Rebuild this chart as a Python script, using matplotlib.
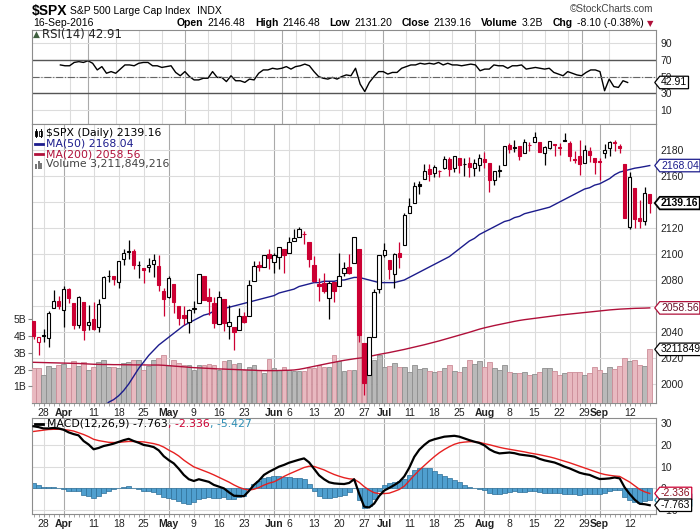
import matplotlib
matplotlib.use("Agg")
import matplotlib.pyplot as plt
from matplotlib.lines import Line2D
from matplotlib.patches import Rectangle
from matplotlib.path import Path
from matplotlib.transforms import blended_transform_factory as blend
import numpy as np
import pandas as pd

plt.rcParams["font.family"] = ["Liberation Sans", "DejaVu Sans"]

# ---- data: $SPX daily, 23-Mar-2016 .. 16-Sep-2016 ----
holidays = ["2016-03-25", "2016-05-30", "2016-07-04", "2016-09-05"]
prev_close0 = 2049.80  # close of 22-Mar, only used for colouring

open_ = [2048.55, 2032.48, 2037.89, 2035.75, 2058.27, 2063.77, 2056.62, 2073.19, 2062.50, 2045.56,
         2063.37, 2045.54, 2050.23, 2043.72, 2065.92, 2082.89, 2083.10, 2078.83, 2096.05, 2101.52,
         2102.09, 2091.49, 2089.37, 2089.84, 2092.57, 2090.93, 2071.82, 2067.17, 2077.18, 2060.30,
         2052.95, 2047.77, 2057.55, 2062.63, 2083.29, 2067.17, 2062.50, 2046.53, 2065.04, 2044.38,
         2044.21, 2041.88, 2052.23, 2052.65, 2078.93, 2091.44, 2090.06, 2100.13, 2093.94, 2097.71,
         2104.07, 2100.83, 2110.18, 2112.71, 2115.65, 2109.57, 2091.75, 2076.65, 2077.60, 2066.36,
         2078.20, 2075.58, 2085.19, 2089.75, 2092.80, 2103.81, 2031.45, 2006.67, 2036.09, 2073.17,
         2099.34, 2095.05, 2084.43, 2100.42, 2106.97, 2131.72, 2139.50, 2153.81, 2157.88, 2165.13,
         2162.04, 2163.79, 2166.10, 2172.91, 2166.47, 2173.71, 2168.97, 2169.81, 2166.05, 2168.83,
         2173.15, 2169.94, 2156.81, 2163.51, 2168.79, 2183.76, 2182.24, 2182.81, 2177.97, 2183.74,
         2186.08, 2186.24, 2177.84, 2181.90, 2184.24, 2181.58, 2187.81, 2185.09, 2173.29, 2175.10,
         2170.19, 2179.45, 2173.56, 2171.33, 2177.49, 2181.61, 2185.17, 2182.76, 2169.08, 2120.86,
         2150.47, 2127.86, 2125.36, 2146.48]
high = [2048.55, 2036.04, 2042.67, 2055.91, 2072.21, 2067.92, 2075.07, 2074.02, 2062.50, 2067.33,
        2063.37, 2060.63, 2062.93, 2065.05, 2083.18, 2087.84, 2083.22, 2094.66, 2104.05, 2111.05,
        2103.78, 2094.32, 2089.37, 2096.87, 2099.89, 2099.30, 2073.85, 2083.42, 2077.18, 2060.30,
        2060.23, 2057.72, 2064.15, 2084.87, 2083.29, 2073.99, 2066.79, 2071.88, 2065.69, 2060.61,
        2044.21, 2058.35, 2055.58, 2079.67, 2094.73, 2094.30, 2099.06, 2103.48, 2100.97, 2105.26,
        2104.07, 2113.36, 2119.22, 2120.55, 2117.64, 2109.57, 2098.12, 2081.30, 2085.65, 2079.62,
        2078.20, 2100.66, 2093.66, 2099.71, 2113.32, 2103.81, 2031.45, 2036.09, 2073.13, 2098.94,
        2108.71, 2095.05, 2100.72, 2109.08, 2131.71, 2143.16, 2155.40, 2156.45, 2168.99, 2169.05,
        2168.35, 2164.63, 2175.63, 2174.56, 2175.11, 2173.71, 2173.54, 2174.98, 2172.85, 2177.09,
        2178.29, 2170.20, 2163.79, 2168.19, 2182.87, 2185.44, 2187.66, 2183.41, 2188.45, 2186.28,
        2193.81, 2186.24, 2183.08, 2187.03, 2185.00, 2185.15, 2193.42, 2186.66, 2179.00, 2187.94,
        2183.48, 2182.27, 2173.79, 2173.56, 2184.87, 2186.57, 2187.87, 2184.94, 2169.08, 2163.30,
        2150.47, 2141.33, 2151.31, 2146.48]
low = [2034.86, 2022.49, 2031.96, 2028.31, 2058.27, 2057.46, 2043.98, 2062.57, 2042.56, 2043.09,
       2033.80, 2041.69, 2041.88, 2039.74, 2065.92, 2078.13, 2076.31, 2073.65, 2091.68, 2096.32,
       2088.52, 2081.20, 2077.52, 2085.80, 2082.31, 2071.62, 2052.28, 2066.11, 2054.89, 2045.55,
       2045.77, 2039.45, 2054.31, 2062.63, 2064.46, 2053.13, 2043.13, 2046.53, 2040.82, 2034.49,
       2025.91, 2041.88, 2047.26, 2052.65, 2078.93, 2087.08, 2090.06, 2088.66, 2085.10, 2088.59,
       2085.36, 2100.83, 2110.18, 2112.71, 2107.73, 2089.96, 2078.46, 2064.10, 2069.80, 2050.37,
       2062.84, 2075.58, 2083.02, 2084.36, 2092.80, 2032.57, 1991.68, 2006.67, 2036.09, 2070.00,
       2097.90, 2080.86, 2074.02, 2089.39, 2106.97, 2131.72, 2139.50, 2146.21, 2157.88, 2155.79,
       2159.07, 2159.01, 2165.74, 2159.75, 2163.24, 2161.95, 2160.18, 2159.07, 2159.74, 2163.49,
       2166.21, 2147.58, 2152.70, 2159.07, 2168.79, 2177.85, 2178.61, 2172.00, 2177.97, 2179.42,
       2186.08, 2178.14, 2168.50, 2180.46, 2175.13, 2175.96, 2186.80, 2171.25, 2169.74, 2160.39,
       2170.19, 2170.41, 2161.35, 2157.09, 2173.59, 2175.10, 2179.07, 2177.49, 2127.81, 2119.12,
       2120.27, 2119.90, 2122.36, 2131.20]
close = [2036.71, 2035.94, 2037.05, 2055.01, 2063.95, 2059.74, 2072.78, 2066.13, 2045.17, 2066.66,
         2041.91, 2047.60, 2041.99, 2061.72, 2082.42, 2082.78, 2080.73, 2094.34, 2100.80, 2102.40,
         2091.48, 2091.58, 2087.79, 2091.70, 2095.15, 2075.81, 2065.30, 2081.43, 2063.37, 2051.12,
         2050.63, 2057.14, 2058.69, 2084.39, 2064.46, 2064.11, 2046.61, 2066.66, 2047.21, 2047.63,
         2040.04, 2052.32, 2048.04, 2076.06, 2090.54, 2090.10, 2099.06, 2096.95, 2099.33, 2105.26,
         2099.13, 2109.41, 2112.13, 2119.12, 2115.48, 2096.07, 2079.06, 2075.32, 2071.50, 2077.99,
         2071.22, 2083.25, 2088.90, 2085.45, 2113.32, 2037.41, 2000.54, 2036.09, 2070.77, 2098.86,
         2102.95, 2088.55, 2099.73, 2097.90, 2129.90, 2137.16, 2152.14, 2152.43, 2163.75, 2161.74,
         2166.89, 2163.78, 2173.02, 2165.17, 2175.03, 2168.48, 2169.18, 2166.58, 2170.06, 2173.60,
         2170.84, 2157.03, 2163.79, 2164.25, 2182.87, 2180.89, 2181.74, 2175.49, 2185.79, 2184.05,
         2190.15, 2178.15, 2182.22, 2187.02, 2183.87, 2182.64, 2186.90, 2175.44, 2172.47, 2169.04,
         2180.38, 2176.12, 2170.95, 2170.86, 2179.98, 2186.48, 2186.16, 2181.30, 2127.81, 2159.04,
         2127.02, 2125.77, 2147.26, 2139.16]
volume_b = [2.08, 2.08, 1.68, 2.20, 2.08, 2.28, 2.33, 2.08, 2.50, 2.24,
            2.45, 2.00, 2.18, 2.43, 2.55, 2.18, 2.18, 2.08, 2.38, 2.43,
            2.55, 2.55, 2.00, 2.24, 2.60, 2.67, 2.90, 2.30, 2.55, 2.38,
            2.30, 2.26, 2.00, 2.28, 2.28, 2.33, 2.28, 2.00, 2.50, 2.57,
            2.33, 2.38, 1.98, 2.13, 2.28, 1.98, 1.78, 2.63, 2.08, 1.98,
            2.13, 1.98, 1.94, 1.94, 1.92, 2.08, 2.08, 2.30, 2.13, 2.13,
            2.90, 2.53, 1.94, 1.98, 1.98, 4.67, 3.60, 2.67, 2.60, 2.87,
            2.18, 2.24, 2.38, 2.18, 2.18, 1.88, 2.30, 2.04, 2.08, 1.94,
            1.84, 1.94, 2.08, 2.28, 1.94, 1.88, 2.13, 2.57, 2.33, 2.50,
            2.13, 2.43, 2.12, 2.00, 2.28, 1.88, 1.78, 1.82, 1.84, 1.68,
            1.74, 1.88, 2.08, 2.08, 1.94, 1.68, 1.78, 1.84, 1.84, 1.88,
            1.68, 1.82, 2.13, 1.98, 1.78, 2.13, 2.04, 2.24, 2.67, 2.50,
            2.57, 2.30, 2.20, 3.211849216]
ma50 = [1957, 1958, 1959, 1960, 1962, 1963, 1965, 1967, 1968, 1970,
        1971, 1973, 1975, 1978, 1982, 1986, 1988, 1991, 1995, 2000,
        2006, 2012, 2017, 2022, 2026, 2030, 2033, 2036, 2039, 2042,
        2045, 2047, 2049, 2051, 2053, 2054, 2056, 2057, 2058, 2059,
        2060, 2061, 2062, 2063, 2064, 2065, 2066, 2067, 2068, 2070,
        2071, 2072, 2073, 2075, 2076, 2077, 2078, 2078, 2079, 2079,
        2079, 2080, 2080, 2081, 2082, 2082, 2081, 2080, 2079, 2078,
        2078, 2078, 2078, 2079, 2080, 2082, 2084, 2086, 2088, 2090,
        2092, 2094, 2096, 2098, 2101, 2104, 2107, 2110, 2112, 2115,
        2117, 2119, 2121, 2123, 2125, 2126, 2128, 2129, 2131, 2132,
        2133, 2134, 2135, 2136, 2138, 2140, 2142, 2144, 2146, 2148,
        2150, 2151, 2153, 2154, 2156, 2158, 2161, 2163, 2164, 2165,
        2166, 2166.6, 2167.3, 2168.04]
ma200 = [2016.7, 2016.6, 2016.5, 2016.4, 2016.3, 2016.2, 2016.1, 2016.0, 2015.9, 2015.8,
         2015.6, 2015.4, 2015.2, 2015.1, 2015.0, 2015.0, 2014.9, 2014.9, 2014.8, 2014.8,
         2014.7, 2014.7, 2014.7, 2014.6, 2014.6, 2014.6, 2014.4, 2014.1, 2013.8, 2013.5,
         2013.2, 2012.9, 2012.6, 2012.4, 2012.2, 2012.0, 2011.8, 2011.6, 2011.5, 2011.3,
         2011.2, 2011.0, 2010.9, 2010.7, 2010.6, 2010.4, 2010.3, 2010.3, 2010.3, 2010.4,
         2010.5, 2010.6, 2010.8, 2011.3, 2012.0, 2012.8, 2013.6, 2014.4, 2015.2, 2016.0,
         2016.7, 2017.5, 2018.2, 2018.8, 2019.4, 2019.9, 2020.3, 2021.2, 2022.0, 2022.8,
         2023.5, 2024.2, 2025.0, 2025.8, 2026.6, 2027.5, 2028.4, 2029.3, 2030.2, 2031.2,
         2032.2, 2033.2, 2034.3, 2035.4, 2036.5, 2037.6, 2038.7, 2039.8, 2041.0, 2042.2,
         2043.2, 2044.1, 2045.0, 2045.8, 2046.6, 2047.4, 2048.2, 2048.9, 2049.5, 2050.0,
         2050.5, 2051.0, 2051.5, 2052.0, 2052.5, 2053.0, 2053.4, 2053.8, 2054.2, 2054.6,
         2055.0, 2055.4, 2055.8, 2056.2, 2056.6, 2057.0, 2057.3, 2057.6, 2057.8, 2058.0,
         2058.2, 2058.3, 2058.4, 2058.56]
rsi = [64, 63, 63, 67, 68, 67, 69, 66, 58, 62,
       54, 56, 54, 59, 64, 64, 63, 66, 67, 67,
       63, 63, 61, 62, 63, 55, 51, 56, 50, 46,
       46, 48, 48, 56, 49, 49, 44, 51, 45, 45,
       43, 47, 46, 54, 58, 58, 60, 59, 60, 62,
       59, 62, 63, 65, 63, 56, 50, 48, 47, 49,
       47, 50, 52, 51, 60, 41, 32, 43, 50, 56,
       56, 53, 55, 55, 60, 62, 64, 64, 66, 65,
       66, 65, 67, 64, 66, 64, 64, 63, 64, 65,
       64, 57, 59, 59, 64, 63, 63, 60, 63, 63,
       64, 59, 60, 61, 60, 59, 60, 55, 53, 51,
       56, 54, 52, 51, 55, 58, 58, 56, 33, 47,
       38, 37, 45, 42.91]
macd = [28.6, 28.2, 27.6, 27.6, 27.8, 27.6, 27.0, 25.8, 25.0, 24.4,
        21.8, 20.2, 18.0, 18.6, 19.5, 20.0, 20.6, 21.4, 22.2, 22.8,
        21.8, 21.0, 20.0, 19.6, 19.0, 17.5, 14.8, 13.0, 11.5, 9.0,
        6.2, 4.2, 3.4, 4.2, 3.6, 3.0, 1.6, 0.8, 0.0, -1.8,
        -3.4, -3.5, -3.6, -1.2, 1.6, 3.6, 6.2, 7.6, 8.8, 10.0,
        10.8, 11.8, 12.5, 13.2, 13.8, 12.0, 9.0, 6.0, 4.2, 2.8,
        2.3, 2.1, 2.0, 2.5, 4.2, -2.5, -8.4, -8.8, -7.0, -3.5,
        -1.0, 0.2, 1.5, 3.0, 5.5, 9.5, 14.5, 17.8, 20.0, 21.8,
        22.6, 23.2, 23.8, 24.0, 24.2, 23.8, 23.0, 22.2, 21.5, 20.9,
        19.8, 18.0, 16.8, 16.1, 16.3, 16.5, 16.2, 15.6, 15.3, 15.0,
        14.6, 13.6, 12.9, 12.4, 11.9, 11.0, 10.0, 9.2, 8.2, 7.2,
        6.6, 6.2, 5.2, 4.3, 4.4, 4.6, 5.0, 4.6, 0.4, -2.6,
        -5.2, -7.1, -7.3, -7.763]
signal = [26.2, 26.5, 26.8, 27.1, 27.2, 27.2, 27.1, 26.8, 26.4, 25.6,
          24.8, 23.8, 22.6, 22.0, 21.6, 21.2, 21.1, 21.2, 21.4, 21.6,
          21.6, 21.5, 21.4, 21.0, 20.6, 20.0, 19.0, 17.6, 16.4, 14.9,
          13.0, 11.4, 9.9, 9.0, 8.1, 7.2, 6.2, 5.1, 4.0, 2.9,
          1.6, 0.5, -0.3, -0.8, -0.4, 0.4, 1.5, 2.4, 3.0, 4.2,
          5.5, 6.6, 7.6, 8.6, 9.6, 10.2, 10.1, 9.3, 8.5, 7.4,
          6.4, 5.6, 4.9, 4.4, 4.2, 2.8, 0.8, -0.8, -2.0, -2.4,
          -2.4, -2.2, -1.4, -0.5, 1.0, 3.5, 6.0, 8.4, 10.5, 12.6,
          14.6, 16.4, 17.9, 19.2, 20.3, 21.0, 21.3, 21.5, 21.5, 21.2,
          20.6, 20.1, 19.5, 18.9, 18.4, 18.0, 17.6, 17.2, 16.8, 16.3,
          15.9, 15.5, 15.0, 14.5, 13.9, 13.2, 12.5, 11.8, 11.0, 10.2,
          9.4, 8.6, 7.8, 7.0, 6.4, 6.0, 5.7, 5.5, 4.2, 2.9,
          1.2, -0.5, -1.6, -2.336]
hist = [2.4, 1.7, 0.8, 0.5, 0.6, 0.4, -0.1, -1.0, -1.4, -1.2,
        -3.0, -3.6, -4.6, -3.4, -2.1, -1.2, -0.5, 0.2, 0.8, 1.2,
        0.2, -0.5, -1.4, -1.4, -1.6, -2.5, -4.2, -4.6, -4.9, -5.9,
        -6.8, -7.2, -6.5, -4.8, -4.5, -4.2, -4.6, -4.3, -4.0, -4.7,
        -5.0, -4.0, -3.3, -0.4, 2.0, 3.2, 4.7, 5.2, 5.8, 5.8,
        5.3, 5.2, 4.9, 4.6, 4.2, 1.8, -1.1, -3.3, -4.3, -4.6,
        -4.1, -3.5, -2.9, -1.9, 0.0, -5.3, -9.2, -8.0, -5.0, -1.1,
        1.4, 2.4, 2.9, 3.5, 4.5, 6.0, 8.5, 9.4, 9.5, 9.2,
        8.0, 6.8, 5.9, 4.8, 3.9, 2.8, 1.7, 0.7, 0.0, -0.3,
        -0.8, -2.1, -2.7, -2.8, -2.1, -1.5, -1.4, -1.6, -1.5, -1.3,
        -1.3, -1.9, -2.1, -2.1, -2.0, -2.2, -2.5, -2.6, -2.8, -3.0,
        -2.8, -2.4, -2.6, -2.7, -2.0, -1.4, -0.7, -0.9, -3.8, -5.5,
        -6.4, -6.6, -5.7, -5.427]

tick_dates = ["2016-03-28", "2016-04-01", "2016-04-11", "2016-04-18", "2016-04-25",
              "2016-05-02", "2016-05-09", "2016-05-16", "2016-05-23", "2016-06-01",
              "2016-06-06", "2016-06-13", "2016-06-20", "2016-06-27", "2016-07-01",
              "2016-07-11", "2016-07-18", "2016-07-25", "2016-08-01", "2016-08-08",
              "2016-08-15", "2016-08-22", "2016-08-29", "2016-09-01", "2016-09-12"]
tick_text = ["28", "Apr", "11", "18", "25", "May", "9", "16", "23", "Jun", "6", "13", "20",
             "27", "Jul", "11", "18", "25", "Aug", "8", "15", "22", "29", "Sep", "12"]
price_ticks = [2000, 2020, 2040, 2060, 2080, 2100, 2120, 2140, 2160, 2180]
price_tick_text = ["2000", "2020", "2040", "2060", "2080", "2100", "2120", "", "2160", "2180"]

# ---- look ----
W, H = 700, 530
RED = "#cc0033"
NAVY = "#1c1c8c"
CRIMSON = "#b0103a"
GRID = "#dcdcdc"
MONTH_GRID = "#aaaaaa"

days = pd.bdate_range("2016-03-23", "2016-09-16").drop(pd.to_datetime(holidays))
x = np.arange(len(days))
tick_pos = [days.get_loc(pd.Timestamp(d)) for d in tick_dates]

o = np.array(open_); c = np.array(close)
prev = np.r_[prev_close0, c[:-1]]
up_day = c >= prev
hollow = c >= o

fig = plt.figure(figsize=(W / 100, H / 100), dpi=100)


def rect(l, t, r, b):
    return [l / W, 1 - b / H, (r - l) / W, (b - t) / H]


ax_rsi = fig.add_axes(rect(32, 30, 656, 124))
ax = fig.add_axes(rect(32, 124, 656, 403))
ax_vol = fig.add_axes(rect(32, 124, 656, 403), sharex=ax)
ax_top = fig.add_axes(rect(32, 124, 656, 403), sharex=ax, sharey=ax)
ax_macd = fig.add_axes(rect(32, 418, 656, 514), sharex=ax)


def frame(a):
    for s in a.spines.values():
        s.set_color("#8c8c8c")
        s.set_linewidth(0.8)
    for p, t in zip(tick_pos, tick_text):
        a.axvline(p, color=MONTH_GRID if t.isalpha() else GRID, lw=0.8, zorder=0)
    a.yaxis.tick_right()
    a.tick_params(axis="y", length=0, pad=3, labelsize=7.5, colors="#222222")
    a.grid(axis="y", color=GRID, lw=0.8)
    a.set_axisbelow(True)


for a in (ax_rsi, ax, ax_macd):
    frame(a)
ax.set_xlim(-0.3, 124.25)


def xlabels(a):
    a.set_xticks(tick_pos)
    a.set_xticklabels(tick_text, fontsize=7.5)
    for lab, t in zip(a.get_xticklabels(), tick_text):
        if t.isalpha():
            lab.set_fontweight("bold")
    a.set_xticks(x, minor=True)
    a.tick_params(axis="x", which="both", length=2, color="#999999", pad=1.5, colors="#222222")


# ---- RSI ----
ax_rsi.plot(x, rsi, color="black", lw=1)
ax_rsi.axhline(70, color="#555555", lw=1)
ax_rsi.axhline(30, color="#555555", lw=1)
ax_rsi.axhline(50, color="#666666", lw=0.8, ls="-.")
ax_rsi.set_ylim(-7, 106)
ax_rsi.set_yticks([10, 30, 50, 70, 90])
ax_rsi.tick_params(axis="x", which="both", length=0, labelbottom=False)

# ---- price + volume ----
ax.set_ylim(1985.4, 2200)
ax.set_yticks(price_ticks)
ax.set_yticklabels(price_tick_text)
xlabels(ax)

ax_vol.patch.set_visible(False)
for s in ax_vol.spines.values():
    s.set_visible(False)
ax_vol.xaxis.set_visible(False)
vol_face = np.where(up_day, "#b9b9b9", "#e8b9c0")
vol_edge = np.where(up_day, "#8e8e8e", "#cc8d98")
ax_vol.bar(x, volume_b, width=0.92, color=vol_face, edgecolor=vol_edge, lw=0.6)
ax_vol.set_ylim(0, 16.7)
ax_vol.set_yticks([1, 2, 3, 4, 5])
ax_vol.set_yticklabels(["1B", "2B", "3B", "4B", "5B"])
ax_vol.tick_params(axis="y", length=3, width=0.8, color="#888888", pad=1, labelsize=7.5, colors="#222222")
for t in ax_vol.get_yticklines():
    t.set_color("#888888")

ax_top.set_axis_off()
ax_top.plot(x, ma200, color=CRIMSON, lw=1, zorder=2)
ax_top.plot(x, ma50, color=NAVY, lw=1, zorder=2)
col = np.where(up_day, "black", RED)
ax_top.vlines(x, low, high, colors=col, lw=0.9, zorder=3)
ax_top.bar(x, c - o, bottom=o, width=0.68, color=np.where(hollow, "white", col),
           edgecolor=col, lw=0.8, zorder=4)

# ---- MACD ----
ax_macd.bar(x, hist, width=1.0, color="#4f9fcf", edgecolor="#2d6f98", lw=0.5, zorder=1)
ax_macd.plot(x, signal, color="#e62020", lw=1, zorder=2)
ax_macd.plot(x, macd, color="black", lw=1.6, zorder=3)
ax_macd.set_ylim(-11.8, 32.4)
ax_macd.set_yticks([-10, 0, 10, 20, 30])
xlabels(ax_macd)


# ---- value tags on the right axis ----
def tag_shape(x0, y0, width, height, mutation_size):
    pad = 0.12 * mutation_size
    x0, y0 = x0 - pad, y0 - pad
    x1, y1 = x0 + width + 2 * pad, y0 + height + 2 * pad
    ym = (y0 + y1) / 2
    tip = x0 - 0.4 * (y1 - y0)
    return Path([(tip, ym), (x0, y0), (x1, y0), (x1, y1), (x0, y1), (tip, ym)], closed=True)


def tag(a, val, s, ec, tc="black", bold=False, lw=0.9):
    a.text(1 + 5 / 624, val, s, transform=blend(a.transAxes, a.transData),
           ha="left", va="center", fontsize=7.5, color=tc,
           fontweight="bold" if bold else "normal",
           bbox=dict(boxstyle=tag_shape, fc="white", ec=ec, lw=lw),
           clip_on=False, zorder=10)


tag(ax_rsi, rsi[-1], f"{rsi[-1]:.2f}", "black")
tag(ax, ma50[-1], f"{ma50[-1]:.2f}", NAVY, NAVY)
tag(ax, ma200[-1], f"{ma200[-1]:.2f}", CRIMSON, "#6a1028")
tag(ax, close[-1], f"{close[-1]:.2f}", "black", bold=True, lw=1.3)
tag(ax_vol, volume_b[-1], f"{round(volume_b[-1] * 1e9)}", "black")
tag(ax_macd, hist[-1], f"{hist[-1]:.3f}", "#3399bb", "#1d6f8f")
tag(ax_macd, signal[-1], f"{signal[-1]:.3f}", RED, "#8a1020")
tag(ax_macd, macd[-1], f"{macd[-1]:.3f}", "black")


# ---- texts laid out in pixels ----
def text_row(pieces, x_px, y_px, align="left", va="baseline"):
    r = fig.canvas.get_renderer()
    placed = []
    for s, gap, kw in pieces:
        t = fig.text(0, 1 - y_px / H, s, ha="left", va=va, **kw)
        placed.append((t, t.get_window_extent(r).width, gap))
    total = sum(w + g for _, w, g in placed) - placed[-1][2]
    cur = x_px if align == "left" else x_px - total
    for t, w, g in placed:
        t.set_x(cur / W)
        cur += w + g


text_row([("$SPX", 3, dict(fontsize=10, fontweight="bold")),
          ("S&P 500 Large Cap Index", 6, dict(fontsize=7.5)),
          ("INDX", 0, dict(fontsize=7.5))], 32, 14.5)
fig.text(653 / W, 1 - 12.5 / H, "\u00a9StockCharts.com", ha="right", va="baseline",
         fontsize=7.2, color="#444444")
fig.text(33 / W, 1 - 26 / H, days[-1].strftime("%d-%b-%Y"), ha="left", va="baseline", fontsize=7.5)

chg = close[-1] - close[-2]
bold = dict(fontsize=7.5, fontweight="bold")
reg = dict(fontsize=7.5)
text_row([("Open", 4, bold), (f"{open_[-1]:.2f}", 9.5, reg),
          ("High", 4, bold), (f"{high[-1]:.2f}", 9.5, reg),
          ("Low", 4, bold), (f"{low[-1]:.2f}", 9.5, reg),
          ("Close", 4, bold), (f"{close[-1]:.2f}", 9.5, reg),
          ("Volume", 4, bold), (f"{volume_b[-1]:.1f}B", 9.5, reg),
          ("Chg", 4, bold), (f"{chg:.2f} ({chg / close[-2] * 100:.2f}%)", 3, reg),
          ("\u25bc", 0, dict(fontsize=6, color=CRIMSON, family="DejaVu Sans"))],
         653, 26, align="right")

leg = dict(fontsize=7.8, family="DejaVu Sans")
# RSI legend
fig.text(33 / W, 1 - 34.5 / H, "\u25b2", fontsize=6.5, color="#3f5f3f", va="center", family="DejaVu Sans")
fig.text(42 / W, 1 - 34.5 / H, f"RSI(14) {rsi[-1]:.2f}", va="center", color="#222222",
         fontsize=8.4, family="DejaVu Sans")

# price legend
for cx, filled in ((36, True), (40.5, False)):
    fig.add_artist(Line2D([cx / W] * 2, [1 - 137 / H, 1 - 128.5 / H], color="black", lw=0.7))
    fig.add_artist(Rectangle(((cx - 1.4) / W, 1 - 135.5 / H), 2.8 / W, 5 / H, transform=fig.transFigure,
                             fc="black" if filled else "white", ec="black", lw=0.6))
fig.text(46 / W, 1 - 132.7 / H, f"$SPX (Daily) {close[-1]:.2f}", va="center", color="black", **leg)
fig.add_artist(Line2D([35 / W, 43 / W], [1 - 143.5 / H] * 2, color=NAVY, lw=2))
fig.text(46 / W, 1 - 143.5 / H, f"MA(50) {ma50[-1]:.2f}", va="center", color=NAVY, **leg)
fig.add_artist(Line2D([35 / W, 43 / W], [1 - 154.3 / H] * 2, color=CRIMSON, lw=2))
fig.text(46 / W, 1 - 154.3 / H, f"MA(200) {ma200[-1]:.2f}", va="center", color=CRIMSON, **leg)
for bx, bh in ((35, 5), (37.7, 8), (40.4, 6)):
    fig.add_artist(Rectangle((bx / W, 1 - 168.5 / H), 2 / W, bh / H, transform=fig.transFigure,
                             fc="#777777", ec="none"))
fig.text(46 / W, 1 - 164.3 / H, f"Volume {round(volume_b[-1] * 1e9):,}", va="center", color="#444444", **leg)

# MACD legend
fig.add_artist(Line2D([35 / W, 43 / W], [1 - 424 / H] * 2, color="black", lw=2))
text_row([(f"MACD(12,26,9) {macd[-1]:.3f}", 0, dict(color="black", **leg)),
          (f", {signal[-1]:.3f}", 0, dict(color=RED, **leg)),
          (f", {hist[-1]:.3f}", 0, dict(color="#2f8fb5", **leg))], 47, 424, va="center")

fig.savefig("out.png", dpi=100)
